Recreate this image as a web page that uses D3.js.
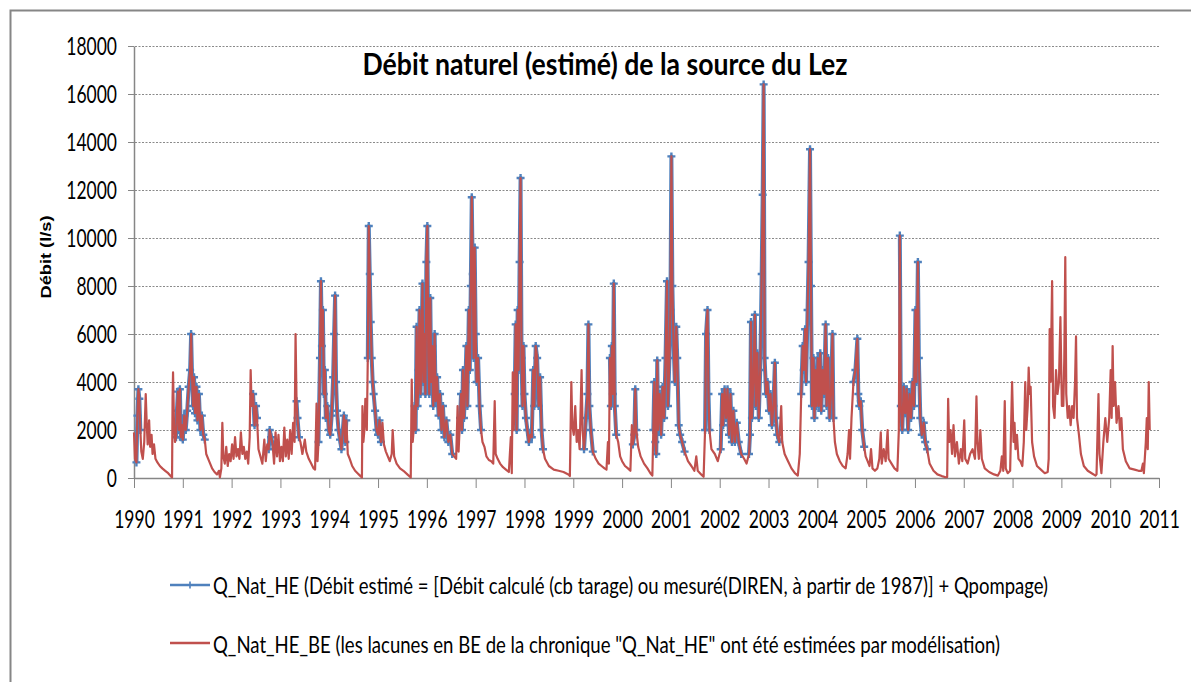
<!DOCTYPE html>
<html>
<head>
<meta charset="utf-8">
<script src="https://cdn.jsdelivr.net/npm/d3@7"></script>
<style>
  body { margin: 0; background: #fff; }
  svg text { font-family: Lato, "Open Sans", sans-serif; fill: #000; }
</style>
</head>
<body>
<svg id="chart" width="1191" height="682"></svg>
<script>
// Débit naturel (l/s), [année décimale, débit]
const flow1990_1993 = [
  [1990.00,1900],[1990.02,800],[1990.05,650],[1990.07,2600],[1990.09,3700],[1990.11,3300],[1990.13,2000],[1990.15,1100],
  [1990.18,800],[1990.21,1500],[1990.24,3500],[1990.26,2300],[1990.28,1400],[1990.31,2400],[1990.33,1300],[1990.36,1800],
  [1990.38,1000],[1990.41,1400],[1990.44,800],[1990.48,650],[1990.53,500],[1990.58,400],[1990.64,300],[1990.70,200],
  [1990.76,60],[1990.78,30],[1990.79,3300],[1990.80,4400],[1990.82,2200],[1990.84,1500],[1990.86,1700],[1990.88,2800],
  [1990.90,3600],[1990.92,2000],[1990.94,3700],[1990.96,1700],[1990.98,2200],
  [1991.00,1600],[1991.03,2600],[1991.06,2000],[1991.09,2800],[1991.12,3800],[1991.15,4500],[1991.17,6000],[1991.19,4200],
  [1991.21,3000],[1991.23,4200],[1991.25,2700],[1991.28,3800],[1991.30,2400],[1991.33,3500],[1991.36,2000],[1991.39,2600],
  [1991.42,1800],[1991.45,1600],[1991.48,1000],[1991.52,800],[1991.56,600],[1991.60,400],[1991.65,250],[1991.70,150],
  [1991.74,300],[1991.76,30],[1991.79,400],[1991.81,2300],[1991.83,900],[1991.86,600],[1991.89,1300],[1991.92,500],
  [1991.95,1000],[1991.98,700],
  [1992.01,1400],[1992.04,800],[1992.07,1700],[1992.10,900],[1992.13,1200],[1992.16,800],[1992.19,1900],[1992.22,1000],
  [1992.25,1300],[1992.28,800],[1992.31,1100],[1992.34,600],[1992.37,1700],[1992.39,4500],[1992.41,3000],[1992.44,3500],
  [1992.47,2200],[1992.50,3000],[1992.52,2500],[1992.55,1200],[1992.59,900],[1992.63,600],[1992.67,1600],[1992.70,700],
  [1992.73,1400],[1992.76,1200],[1992.78,2000],[1992.81,1700],[1992.84,1400],[1992.87,600],[1992.90,1900],[1992.93,900],
  [1992.96,1800],[1992.99,700],
  [1993.02,1300],[1993.05,700],[1993.08,2100],[1993.11,900],[1993.14,1600],[1993.17,800],[1993.20,2000],[1993.23,1000],
  [1993.26,2300],[1993.29,1500],[1993.31,6000],[1993.33,3200],[1993.35,2500],[1993.38,1700],[1993.41,1500],[1993.45,1000],
  [1993.50,1600],[1993.53,1100],[1993.58,800],[1993.63,600],[1993.68,400],[1993.71,350],[1993.74,3100],[1993.76,700],
  [1993.78,1500],[1993.81,5000],[1993.83,8200],[1993.85,5500],[1993.87,7000],[1993.89,3500],[1993.91,4500],[1993.93,2500],
  [1993.96,3000],[1993.99,2000]
];

const flow1994_1997 = [
  [1994.02,1800],[1994.05,2600],[1994.08,4200],[1994.10,6000],[1994.12,7600],[1994.14,4000],[1994.16,2800],[1994.19,2000],
  [1994.22,1600],[1994.25,1200],[1994.30,2600],[1994.33,1500],[1994.35,2400],[1994.38,1000],[1994.42,800],[1994.47,500],
  [1994.53,300],[1994.58,200],[1994.63,100],[1994.67,20],[1994.68,3000],[1994.70,1500],[1994.72,2000],[1994.74,3300],
  [1994.77,2000],[1994.79,5000],[1994.81,10500],[1994.83,8500],[1994.85,6500],[1994.87,5000],[1994.89,4000],[1994.91,3500],
  [1994.94,2800],[1994.97,2000],
  [1995.00,1800],[1995.03,2400],[1995.06,1500],[1995.09,2300],[1995.12,1400],[1995.16,1100],[1995.20,900],[1995.24,700],
  [1995.28,1000],[1995.30,2000],[1995.33,900],[1995.38,600],[1995.45,400],[1995.52,300],[1995.60,150],[1995.67,20],
  [1995.69,4100],[1995.71,1500],[1995.73,2000],[1995.75,3000],[1995.77,2000],[1995.79,6300],[1995.81,3000],[1995.83,4500],
  [1995.85,7000],[1995.87,3500],[1995.89,5000],[1995.91,8100],[1995.93,4000],[1995.95,6000],[1995.97,3500],[1995.99,9000],
  [1996.01,10500],[1996.03,5000],[1996.05,3500],[1996.07,7500],[1996.09,4000],[1996.11,5500],[1996.13,3000],[1996.16,6000],
  [1996.18,3200],[1996.21,4200],[1996.24,2600],[1996.27,3500],[1996.30,2000],[1996.33,3000],[1996.36,1700],[1996.40,2400],
  [1996.44,1500],[1996.48,1800],[1996.52,1000],[1996.56,900],[1996.60,800],[1996.63,3000],[1996.65,1100],[1996.68,2500],
  [1996.70,3500],[1996.72,2000],[1996.74,4500],[1996.76,2500],[1996.79,4000],[1996.81,5500],[1996.83,3000],[1996.86,7000],
  [1996.88,4500],[1996.90,8000],[1996.92,11700],[1996.94,8500],[1996.96,5000],[1996.98,9600],
  [1997.00,6000],[1997.02,4000],[1997.05,5000],[1997.08,3000],[1997.11,2000],[1997.14,1500],[1997.18,1300],[1997.22,900],
  [1997.27,750],[1997.32,700],[1997.36,600],[1997.39,3200],[1997.41,1000],[1997.45,800],[1997.50,600],[1997.56,450],
  [1997.62,350],[1997.68,250],[1997.72,1700],[1997.74,200],[1997.76,4400],[1997.78,2000],[1997.80,3500],[1997.82,6400],
  [1997.84,2000],[1997.86,7000],[1997.88,4500],[1997.90,9000],[1997.92,12500],[1997.94,5000],[1997.96,3000],[1997.98,5500]
];

const flow1998_2001 = [
  [1998.00,3500],[1998.03,2500],[1998.06,2000],[1998.09,1500],[1998.12,1800],[1998.15,1700],[1998.18,4500],[1998.20,3000],
  [1998.23,5500],[1998.26,5000],[1998.29,3000],[1998.32,4200],[1998.35,2000],[1998.38,1200],[1998.42,800],[1998.50,500],
  [1998.60,350],[1998.70,300],[1998.80,250],[1998.90,150],[1998.93,80],[1998.96,4000],[1998.98,2200],
  [1999.01,1800],[1999.04,3000],[1999.07,1500],[1999.10,2000],[1999.13,1200],[1999.17,4500],[1999.19,2000],[1999.22,1200],
  [1999.26,2500],[1999.29,3500],[1999.31,6400],[1999.33,3000],[1999.36,2000],[1999.40,1100],[1999.46,800],[1999.52,600],
  [1999.58,500],[1999.64,400],[1999.68,350],[1999.71,1500],[1999.73,600],[1999.75,5000],[1999.77,3000],[1999.79,5500],
  [1999.81,3500],[1999.83,8100],[1999.85,3000],[1999.88,1800],[1999.92,1500],[1999.96,900],
  [2000.00,700],[2000.06,500],[2000.12,400],[2000.17,300],[2000.20,2200],[2000.22,1400],[2000.25,1800],[2000.27,3700],
  [2000.29,2000],[2000.33,1300],[2000.38,900],[2000.45,600],[2000.52,400],[2000.58,200],[2000.62,100],[2000.64,2000],
  [2000.66,4000],[2000.68,1500],[2000.70,1000],[2000.72,4900],[2000.74,2000],[2000.77,3500],[2000.80,1800],[2000.83,3800],
  [2000.86,2500],[2000.89,5000],[2000.92,8200],[2000.94,3000],[2000.97,5000],[2000.99,7000],
  [2001.01,13400],[2001.03,8000],[2001.05,6000],[2001.08,4000],[2001.11,6300],[2001.13,5000],[2001.16,2200],[2001.19,1800],
  [2001.23,1500],[2001.28,1100],[2001.35,700],[2001.42,500],[2001.48,300],[2001.52,900],[2001.55,300],[2001.62,150],
  [2001.67,50],[2001.70,2000],[2001.72,6000],[2001.75,7000],[2001.77,3500],[2001.79,2000],[2001.83,1200],[2001.90,1000],
  [2001.96,700]
];

const flow2002_2005 = [
  [2002.02,1200],[2002.05,3500],[2002.07,2200],[2002.10,3700],[2002.13,2500],[2002.16,3700],[2002.19,1800],[2002.22,3500],
  [2002.25,1500],[2002.28,2800],[2002.31,1500],[2002.35,2300],[2002.39,1500],[2002.44,1000],[2002.50,800],[2002.55,600],
  [2002.60,1000],[2002.62,1800],[2002.64,6500],[2002.66,2500],[2002.69,4000],[2002.72,6800],[2002.74,3000],[2002.77,5200],
  [2002.80,2500],[2002.83,4500],[2002.86,8500],[2002.88,11800],[2002.90,16400],[2002.92,5000],[2002.95,3500],[2002.98,4000],
  [2003.01,2800],[2003.04,3500],[2003.07,2200],[2003.10,3000],[2003.13,4800],[2003.15,2500],[2003.18,1800],[2003.22,1500],
  [2003.26,3000],[2003.28,1500],[2003.33,1000],[2003.40,700],[2003.47,400],[2003.54,200],[2003.60,100],[2003.64,1000],
  [2003.67,3500],[2003.70,5500],[2003.72,4500],[2003.75,6200],[2003.77,4000],[2003.80,7000],[2003.82,9000],[2003.85,13700],
  [2003.87,8000],[2003.89,3000],[2003.92,5000],[2003.94,2500],[2003.96,4500],[2003.98,3000],
  [2004.01,5000],[2004.03,3000],[2004.06,5200],[2004.08,2800],[2004.11,4500],[2004.14,3500],[2004.17,6400],[2004.19,3000],
  [2004.22,5000],[2004.25,2500],[2004.28,3500],[2004.31,6000],[2004.33,2500],[2004.36,1500],[2004.40,1000],[2004.46,700],
  [2004.52,500],[2004.58,400],[2004.62,1000],[2004.65,2000],[2004.67,800],[2004.70,2500],[2004.74,4000],[2004.78,4500],
  [2004.82,5800],[2004.84,3500],[2004.86,3000],[2004.89,3200],[2004.92,2000],[2004.96,1300],[2004.99,900],
  [2005.03,700],[2005.07,500],[2005.10,1200],[2005.13,400],[2005.18,300],[2005.23,400],[2005.27,800],[2005.30,1900],
  [2005.32,600],[2005.36,1200],[2005.40,700],[2005.44,2000],[2005.46,800],[2005.52,600],[2005.58,400],[2005.64,300],
  [2005.67,2000],[2005.69,10100],[2005.71,3000],[2005.74,2000],[2005.77,3800],[2005.80,2700],[2005.83,3700],[2005.86,2000],
  [2005.89,3500],[2005.92,2500],[2005.95,4000],[2005.98,3000]
];

const flow2006_2010 = [
  [2006.01,7000],[2006.03,4000],[2006.06,9000],[2006.08,5000],[2006.11,2500],[2006.14,1800],[2006.18,2300],[2006.21,1500],
  [2006.25,1200],[2006.30,600],[2006.38,300],[2006.46,150],[2006.55,80],[2006.63,30],[2006.66,40],[2006.68,3300],
  [2006.70,1500],[2006.73,2000],[2006.76,1000],[2006.79,2200],[2006.82,900],[2006.86,1500],[2006.90,600],[2006.94,1200],
  [2006.97,700],
  [2007.01,2400],[2007.03,800],[2007.08,600],[2007.13,1000],[2007.18,1200],[2007.23,800],[2007.26,3400],[2007.28,1500],
  [2007.31,800],[2007.34,2000],[2007.37,800],[2007.43,400],[2007.52,250],[2007.62,150],[2007.70,100],[2007.75,300],
  [2007.78,900],[2007.81,300],[2007.84,3200],[2007.86,400],[2007.90,200],[2007.95,300],[2007.99,4000],
  [2008.02,1500],[2008.04,2300],[2008.06,1200],[2008.09,1800],[2008.12,800],[2008.16,700],[2008.20,500],[2008.23,1500],
  [2008.26,4000],[2008.28,2000],[2008.31,3000],[2008.33,4600],[2008.35,3500],[2008.37,3800],[2008.40,1500],[2008.44,900],
  [2008.50,500],[2008.58,350],[2008.66,200],[2008.72,250],[2008.74,800],[2008.76,6200],[2008.78,4000],[2008.81,8200],
  [2008.83,3000],[2008.86,2500],[2008.89,4500],[2008.92,3500],[2008.95,4000],[2008.98,6700],
  [2009.01,3000],[2009.04,3000],[2009.06,5000],[2009.08,9200],[2009.10,3500],[2009.13,2500],[2009.16,3000],[2009.19,2200],
  [2009.22,3000],[2009.25,2500],[2009.28,4000],[2009.30,5900],[2009.32,2500],[2009.36,1800],[2009.40,1000],[2009.46,500],
  [2009.54,300],[2009.62,200],[2009.70,100],[2009.72,150],[2009.76,3500],[2009.78,1000],[2009.82,200],[2009.86,1500],
  [2009.90,2500],[2009.94,1500],[2009.98,2500],
  [2010.01,4500],[2010.03,2500],[2010.05,5500],[2010.07,3000],[2010.10,4000],[2010.13,2300],[2010.17,3000],[2010.20,2000],
  [2010.23,2500],[2010.26,1200],[2010.32,700],[2010.40,400],[2010.50,350],[2010.58,300],[2010.64,300],[2010.67,600],
  [2010.69,200],[2010.73,1500],[2010.75,2500],[2010.77,1200],[2010.79,4000],[2010.81,2000]
];

// Périodes où le débit est mesuré / calculé (série Q_Nat_HE)
const measuredSpans = [
  [1990.05,1990.14],[1990.86,1991.45],[1992.43,1992.53],[1992.76,1992.84],[1993.32,1993.40],
  [1993.78,1994.35],[1994.78,1995.06],[1995.75,1996.55],[1996.68,1997.12],[1997.80,1998.40],
  [1999.20,1999.40],[1999.74,1999.90],[2000.22,2000.30],[2000.63,2001.30],[2001.70,2001.80],
  [2002.02,2002.45],[2002.60,2003.25],[2003.66,2004.35],[2004.72,2004.98],[2005.68,2006.28]
];

const yearTicks = d3.range(1990, 2012);
const yTicks = [0, 2000, 4000, 6000, 8000, 10000, 12000, 14000, 16000, 18000];
const titleText = "Débit naturel (estimé) de la source du Lez";
const yTitle = "Débit (l/s)";
const legendLabels = [
  "Q_Nat_HE (Débit estimé = [Débit calculé (cb tarage) ou mesuré(DIREN, à partir de 1987)] + Qpompage)",
  "Q_Nat_HE_BE (les lacunes en BE de la chronique \"Q_Nat_HE\" ont été estimées par modélisation)"
];

const blue = "#4F81BD";
const red = "#C0504D";
const stretch = 1.4; // le graphique d'origine est étiré verticalement
const plus = "M-4,0H4M0,-4V4";

const svg = d3.select("#chart");
const flow = [].concat(flow1990_1993, flow1994_1997, flow1998_2001, flow2002_2005, flow2006_2010);
const measured = t => measuredSpans.some(s => t >= s[0] && t <= s[1]);

const x = d3.scaleLinear().domain([1990, 2011]).range([134, 1159]);
const y = d3.scaleLinear().domain([0, 18000]).range([478, 46]);

// cadre extérieur
svg.append("rect").attr("x", 10.5).attr("y", 10.5).attr("width", 1200).attr("height", 700)
  .attr("fill", "none").attr("stroke", "#868686").attr("stroke-width", 2);

// grille horizontale pointillée
svg.append("g").attr("transform", "translate(128,0)")
  .call(d3.axisLeft(y).tickValues(yTicks.filter(v => v > 0)).tickSize(-(x.range()[1] - 128)).tickFormat(""))
  .call(g => g.select(".domain").remove())
  .call(g => g.selectAll("line").attr("stroke", "#8a8a8a").attr("stroke-dasharray", "2,1.5"));

// axe Y
const yAxis = svg.append("g").attr("transform", "translate(134,0)")
  .call(d3.axisLeft(y).tickValues(yTicks).tickSize(6).tickSizeOuter(0).tickFormat(d => d));
yAxis.select(".domain").attr("stroke", "#868686").attr("stroke-width", 1.5);
yAxis.selectAll("line").attr("stroke", "#868686");
yAxis.selectAll("text").attr("x", null).attr("dy", null).attr("y", null)
  .attr("font-size", 17.5).attr("text-anchor", "end")
  .attr("transform", `translate(-17,8.5) scale(1,${stretch})`);

// axe X
const xAxis = svg.append("g").attr("transform", `translate(0,${y(0)})`)
  .call(d3.axisBottom(x).tickValues(yearTicks).tickSize(10).tickSizeOuter(0).tickFormat(d3.format("d")));
xAxis.select(".domain").attr("stroke", "#868686").attr("stroke-width", 1.5);
xAxis.selectAll("line").attr("stroke", "#868686");
xAxis.selectAll("text").attr("dy", null).attr("y", null)
  .attr("font-size", 17.5).attr("text-anchor", "middle")
  .attr("transform", `translate(0,50) scale(1,${stretch})`);

// séries
const line = d3.line().x(d => x(d[0])).y(d => y(d[1]));

svg.append("path").datum(flow)
  .attr("d", d3.line().defined(d => measured(d[0])).x(d => x(d[0])).y(d => y(d[1])))
  .attr("fill", "none").attr("stroke", blue).attr("stroke-width", 4).attr("stroke-linejoin", "round");

svg.append("g").selectAll("path").data(flow.filter(d => measured(d[0]))).enter().append("path")
  .attr("transform", d => `translate(${x(d[0])},${y(d[1])})`)
  .attr("d", plus)
  .attr("stroke", blue).attr("stroke-width", 2.4);

svg.append("path").datum(flow)
  .attr("d", line)
  .attr("fill", "none").attr("stroke", red).attr("stroke-width", 2.2).attr("stroke-linejoin", "round");

// titre
svg.append("text").attr("text-anchor", "middle").attr("font-size", 22).attr("font-weight", "bold")
  .attr("textLength", 485).attr("lengthAdjust", "spacingAndGlyphs")
  .attr("transform", `translate(605,75) scale(1,${stretch})`)
  .text(titleText);

// titre de l'axe Y
svg.append("text").attr("text-anchor", "middle").attr("font-size", 14).attr("font-weight", "bold")
  .style("font-family", "'Liberation Sans', Arial, sans-serif")
  .attr("textLength", 83).attr("lengthAdjust", "spacingAndGlyphs")
  .attr("transform", "translate(51,257) rotate(-90)")
  .text(yTitle);

// légende
const legend = svg.append("g");
const rows = [
  { label: legendLabels[0], color: blue, marker: true, y: 585, base: 594, len: 835 },
  { label: legendLabels[1], color: red, marker: false, y: 643, base: 653, len: 787 }
];
rows.forEach(r => {
  legend.append("line").attr("x1", 170).attr("x2", 210).attr("y1", r.y).attr("y2", r.y)
    .attr("stroke", r.color).attr("stroke-width", 2.5);
  if (r.marker) {
    legend.append("path").attr("transform", `translate(190,${r.y})`)
      .attr("d", "M-3.5,0H3.5M0,-3.5V3.5").attr("stroke", r.color).attr("stroke-width", 1.6);
  }
  legend.append("text").attr("font-size", 17)
    .attr("textLength", r.len).attr("lengthAdjust", "spacingAndGlyphs")
    .attr("transform", `translate(213,${r.base}) scale(1,${stretch})`)
    .text(r.label);
});
</script>
</body>
</html>
